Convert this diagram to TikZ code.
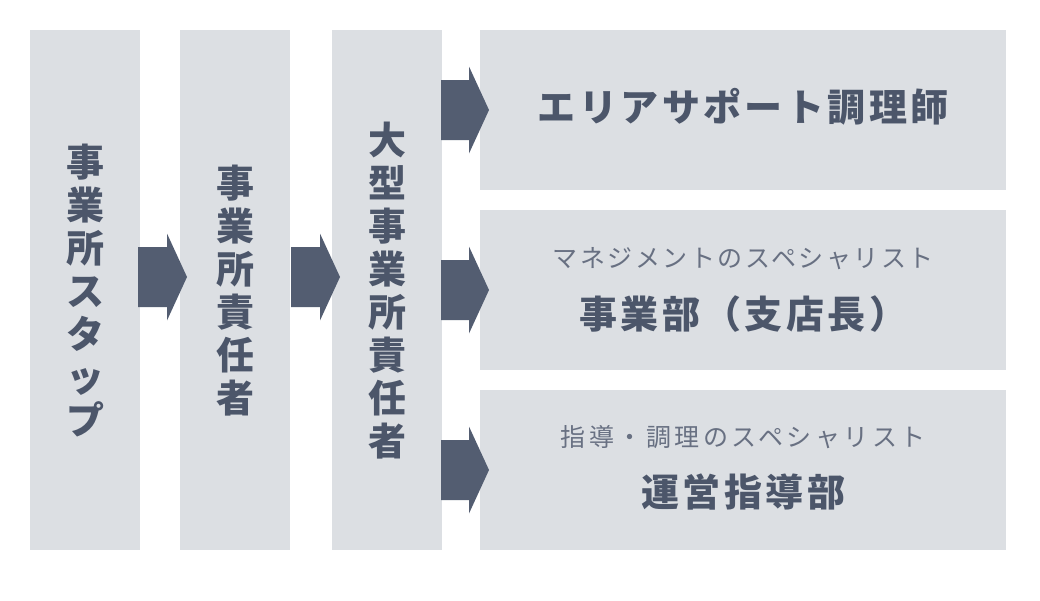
\documentclass[tikz,border=0pt]{standalone}
\usepackage{fontspec}
\newfontfamily\jp{Noto Sans CJK JP}
\usetikzlibrary{positioning}
\definecolor{boxgray}{HTML}{DCDFE3}
\definecolor{arrowblue}{HTML}{535D71}
\definecolor{textblue}{HTML}{4C566A}
\definecolor{subgray}{HTML}{687082}
\begin{document}
\begin{tikzpicture}[x=1pt,y=-1pt, line join=round, line cap=round,
	box/.style={fill=boxgray, draw=none, anchor=north west, inner sep=0pt},
	tall/.style={box, minimum width=110pt, minimum height=520pt},
	wide/.style={box, minimum width=526pt, minimum height=160pt},
	vtext/.style={align=center, text=textblue, font=\jp\bfseries\fontsize{38}{43}\selectfont},
	maintext/.style={text=textblue, font=\jp\bfseries\fontsize{38}{44}\selectfont\addfontfeature{LetterSpace=9}},
	subtext/.style={text=subgray, font=\jp\fontsize{25}{28}\selectfont\addfontfeature{LetterSpace=#1}},
	subtext/.default=10]
	\def\shaft{30} \def\head{43.5} \def\tip{20} % arrow sizes
	\useasboundingbox (0,0) rectangle (1040,600);
	% left columns
	\node[tall] (staff) at (30,30) {};
	\node[tall] (chief) at (180,30) {};
	\node[tall] (bigchief) at (332,30) {};
	% right rows
	\foreach \r/\y in {area/30,mgmt/210,guide/390}
	\node[wide] (\r) at (480,\y) {};
	% arrows: start x / middle y / end x
	\foreach \xa/\ym/\xb in {138/277/187, 291/277/340, 441/110/489, 441/290/489, 441/470/489}
	\fill[arrowblue] (\xa,\ym-\shaft) -- (\xb-\tip,\ym-\shaft) -- (\xb-\tip,\ym-\head)
		-- (\xb,\ym) -- (\xb-\tip,\ym+\head) -- (\xb-\tip,\ym+\shaft) -- (\xa,\ym+\shaft) -- cycle;
	% texts
	\node[vtext] at (staff.center) {事\\業\\所\\ス\\タ\\ッ\\プ};
	\node[vtext] at (chief.center) {事\\業\\所\\責\\任\\者};
	\node[vtext] at (bigchief.center) {大\\型\\事\\業\\所\\責\\任\\者};
	\node[maintext] at ([yshift=3pt]area.center) {エリアサポート調理師};
	\node[subtext] at ([yshift=32pt]mgmt.center) {マネジメントのスペシャリスト};
	\node[maintext] at ([yshift=-24pt]mgmt.center) {事業部（支店長）};
	\node[subtext=14] at ([yshift=33pt]guide.center) {指導・調理のスペシャリスト};
	\node[maintext] at ([yshift=-22pt]guide.center) {運営指導部};
\end{tikzpicture}
\end{document}
